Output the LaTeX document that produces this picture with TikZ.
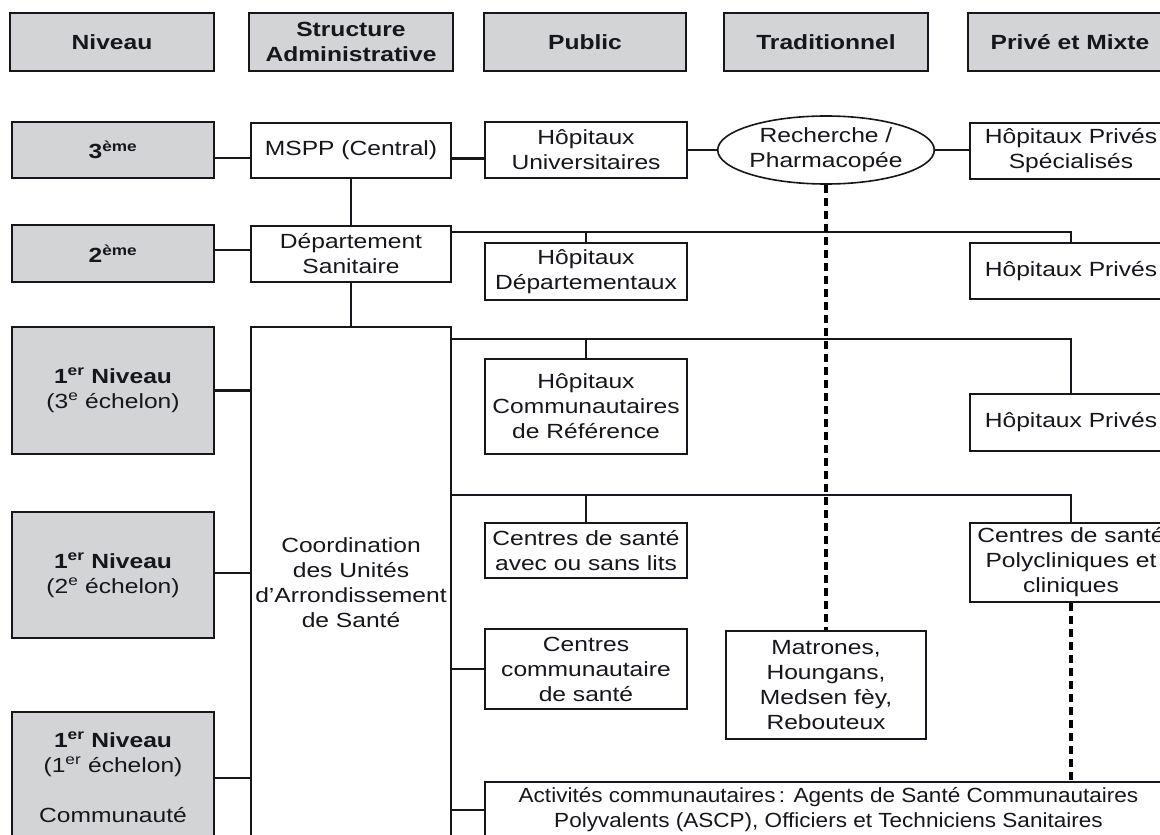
\documentclass[tikz,border=0pt]{standalone}
\usepackage{fontspec}
\setmainfont{Liberation Sans}[FakeStretch=1.2]
\newfontfamily\condf{Liberation Sans}[FakeStretch=1.1]
\usetikzlibrary{shapes.geometric}
\definecolor{hdr}{RGB}{211,212,214}
\definecolor{ink}{RGB}{22,22,28}
\newcommand\fsz{\fontsize{20.5}{25}\selectfont}
\tikzset{
  bx/.style={draw=ink, line width=2.2pt, fill=white, inner sep=0pt, align=center, text=ink, font=\fsz},
  lv/.style={bx, fill=hdr},
  hdbox/.style={lv, font=\fsz\bfseries, line width=2.6pt, minimum height=58pt},
  ln/.style={draw=ink, line width=2.2pt},
  dsh/.style={draw=black, line width=3.2pt, dash pattern=on 8pt off 5pt},
}
\begin{document}
\begin{tikzpicture}[x=1pt, y=-1pt]
\useasboundingbox (0,0) rectangle (1160,835);
\clip (0,0) rectangle (1160,835);

% headers
\node[hdbox, minimum width=204pt] (hN) at (112,42) {Niveau};
\node[hdbox, minimum width=204pt] (hS) at (351,42) {Structure\\Administrative};
\node[hdbox, minimum width=202pt] (hP) at (585,42) {Public};
\node[hdbox, minimum width=204pt] (hT) at (826,42) {Traditionnel};
\node[hdbox, minimum width=204pt] (hV) at (1070,42) {Privé et Mixte};

% levels
\node[lv, font=\fsz\bfseries, minimum width=202pt, minimum height=56pt] (n3) at (113,150) {3\textsuperscript{ème}};
\node[lv, font=\fsz\bfseries, minimum width=202pt, minimum height=57pt] (n2) at (113,253.5) {2\textsuperscript{ème}};
\node[lv, minimum width=202pt, minimum height=127pt] (n1a) at (113,390.5) {\textbf{1\textsuperscript{er} Niveau}\\(3\textsuperscript{e} échelon)};
\node[lv, minimum width=202pt, minimum height=126pt] (n1b) at (113,575) {\textbf{1\textsuperscript{er} Niveau}\\(2\textsuperscript{e} échelon)};
\node[lv, minimum width=202pt, minimum height=130pt] (n1c) at (113,777) {\textbf{1\textsuperscript{er} Niveau}\\(1\textsuperscript{er} échelon)\\[25pt]Communauté};

% administrative structure
\node[bx, minimum width=200pt, minimum height=55pt] (mspp) at (351,150.5) {MSPP (Central)};
\node[bx, minimum width=200pt, minimum height=56pt] (dep) at (351,254) {Département\\Sanitaire};
\node[bx, minimum width=200pt, minimum height=512pt] (coord) at (351,583) {Coordination\\des Unités\\d’Arrondissement\\de Santé};

% public
\node[bx, minimum width=202pt, minimum height=56pt] (hu) at (586,150) {Hôpitaux\\Universitaires};
\node[bx, minimum width=202pt, minimum height=57pt] (hd) at (586,271.5) {Hôpitaux\\Départementaux};
\node[bx, minimum width=202pt, minimum height=95pt] (hc) at (586,406.5) {Hôpitaux\\Communautaires\\de Référence};
\node[bx, minimum width=202pt, minimum height=55pt] (cs) at (586,550.5) {Centres de santé\\avec ou sans lits};
\node[bx, minimum width=202pt, minimum height=80pt] (cc) at (586,669) {Centres\\communautaire\\de santé};
\node[bx, font=\fsz\condf, minimum width=687pt, minimum height=56pt] (act) at (828.5,810) {Activités communautaires\,: Agents de Santé Communautaires\\Polyvalents (ASCP), Officiers et Techniciens Sanitaires};

% traditional
\node[bx, ellipse, line width=1.6pt, minimum width=200pt, minimum height=68pt] (rech) at (826,150) {Recherche /\\Pharmacopée};
\node[bx, minimum width=200pt, minimum height=108pt] (mat) at (826,685) {Matrones,\\Houngans,\\Medsen fèy,\\Rebouteux};

% private
\node[bx, minimum width=202pt, minimum height=56pt] (hps) at (1071,151) {Hôpitaux Privés\\Spécialisés};
\node[bx, minimum width=202pt, minimum height=56pt] (hp2) at (1071,271) {Hôpitaux Privés};
\node[bx, minimum width=202pt, minimum height=57pt] (hp3) at (1071,422.5) {Hôpitaux Privés};
\node[bx, minimum width=202pt, minimum height=79pt] (poly) at (1071,562.5) {Centres de santé\\Polycliniques et\\cliniques};

% branch points
\coordinate (b1) at (451,232);
\coordinate (b2) at (451,339);
\coordinate (b3) at (451,495);

% connectors
\draw[ln] ([yshift=-8pt]n3.east) -- ([yshift=-8pt]n3.east -| mspp.west);
\draw[ln] ([yshift=-8pt]mspp.east) -- ([yshift=-8pt]mspp.east -| hu.west);
\draw[ln] (hu.east) -- (rech.west);
\draw[ln] (rech.east) -- (rech.east -| hps.west);
\draw[ln] ([yshift=3.5pt]n2.east) -- ([yshift=3.5pt]n2.east -| dep.west);
\draw[ln] (mspp.south) -- (dep.north);
\draw[ln] (dep.south) -- (coord.north);
\draw[ln] (b1) -- (b1 -| hp2.north) -- (hp2.north);
\draw[ln] (b1 -| hd.north) -- (hd.north);
\draw[ln] (n1a.east) -- (n1a.east -| coord.west);
\draw[ln] ([yshift=2pt]n1b.east) -- ([yshift=2pt]n1b.east -| coord.west);
\draw[ln] ([yshift=-1pt]n1c.east) -- ([yshift=-1pt]n1c.east -| coord.west);
\draw[ln] (b2) -- (b2 -| hp3.north) -- (hp3.north);
\draw[ln] (b2 -| hc.north) -- (hc.north);
\draw[ln] (b3) -- (b3 -| poly.north) -- (poly.north);
\draw[ln] (b3 -| cs.north) -- (cs.north);
\draw[ln] (cc.west -| coord.east) -- (cc.west);
\draw[ln] (act.west -| coord.east) -- (act.west);
\draw[dsh] (rech.south) -- (mat.north);
\draw[dsh] (poly.south) -- (poly.south |- act.north);
\end{tikzpicture}
\end{document}
